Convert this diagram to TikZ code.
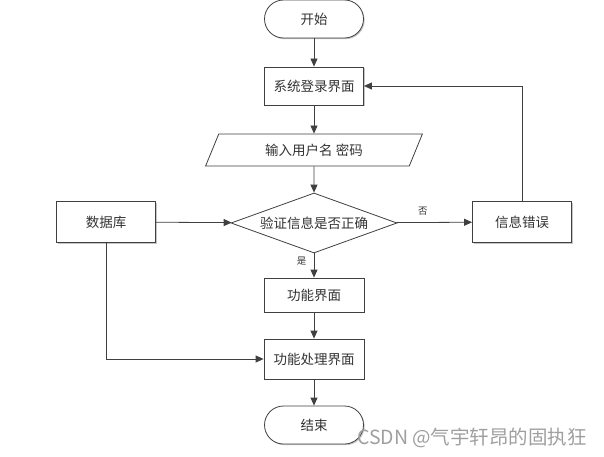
\documentclass[tikz,border=0pt]{standalone}
\usepackage{fontspec}
\usepackage{xcolor}
\newfontfamily\cjk{Noto Sans CJK SC}
\usetikzlibrary{shapes.geometric,arrows.meta,shadows}
\definecolor{linegray}{HTML}{404040}
\definecolor{textgray}{HTML}{333333}
\tikzset{
 >={Triangle[length=8pt,width=7pt]},
 every node/.style={font=\cjk\fontsize{13.5}{16}\selectfont, text=textgray},
 flow/.style={draw=linegray, line width=0.8pt, ->},
 boxshadow/.style={drop shadow={shadow xshift=1.2pt, shadow yshift=-1.2pt, fill=gray, opacity=0.45}},
 stepbox/.style={draw=linegray, fill=white, line width=0.8pt, inner sep=0pt,
   minimum width=99pt, minimum height=38pt, boxshadow},
 terminal/.style={stepbox, rounded corners=19pt},
 iobox/.style={trapezium, trapezium left angle=62, trapezium right angle=118,
   trapezium stretches=true, draw=linegray, fill=white, line width=0.8pt,
   inner sep=0pt, minimum width=217pt, minimum height=32pt},
 decision/.style={diamond, aspect=2.8, draw=linegray, fill=white, line width=0.8pt,
   inner sep=0pt, minimum width=166pt, minimum height=60pt},
 branch/.style={font=\cjk\fontsize{9.5}{11}\selectfont},
}

\begin{document}
\begin{tikzpicture}[x=1pt, y=-1pt]
    \useasboundingbox (0,0) rectangle (604,457);

    % main column
    \node[terminal] (start) at (314, 19) {开始};
    \node[stepbox] (login) at (314, 86) {系统登录界面};
    \node[iobox] (input) at (314, 150) {输入用户名 密码};
    \node[decision] (check) at (314, 223) {验证信息是否正确};
    \node[stepbox, minimum width=100pt, minimum height=34pt] (func) at (314, 295) {功能界面};
    \node[stepbox, minimum width=100pt, minimum height=40pt] (proc) at (314, 359) {功能处理界面};
    \node[terminal] (end) at (314, 425) {结束};

    % side boxes
    \node[stepbox, minimum height=41pt] (db) at (106, 222) {数据库};
    \node[stepbox, minimum height=41pt] (err) at (522, 222) {信息错误};

    \draw[flow] (start) -- (login);
    \draw[flow] (login) -- (input);
    \draw[flow] (input) -- (check);
    \draw[flow] (db) -- (check);
    \draw[flow] (check) -- node[branch, above=3pt, pos=0.35] (no) {否} (err);
    \draw[flow] (err.north) |- (login.east);
    \draw[flow] (check) -- node[branch, left=4pt, pos=0.3] (yes) {是} (func);
    \draw[flow] (func) -- (proc);
    \draw[flow] (db.south) |- (proc.west);
    \draw[flow] (proc) -- (end);

    \node[font=\cjk\fontsize{19.5}{22}\selectfont, text=gray!75] (mark) at (472, 438) {CSDN @气宇轩昂的固执狂};
\end{tikzpicture}
\end{document}
